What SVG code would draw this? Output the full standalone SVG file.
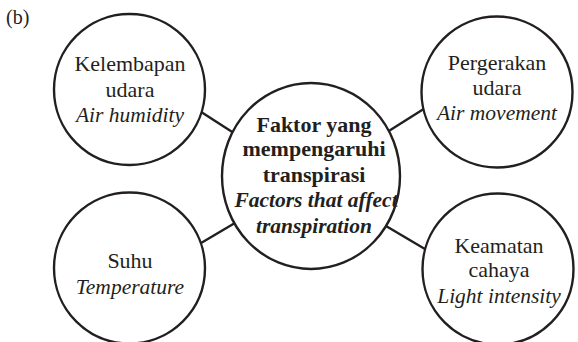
<svg xmlns="http://www.w3.org/2000/svg" width="578" height="342" viewBox="0 0 578 342">
<style>
.n{fill:#fff;stroke:#231f20;stroke-width:2.4}
.c line{stroke:#231f20;stroke-width:2.4}
text{font-family:"Liberation Serif","Times New Roman",serif;fill:#231f20;text-anchor:middle}
.r{font-size:22px}
.i{font-size:21.5px;font-style:italic}
.b{font-size:22px;font-weight:bold}
.bi{font-size:21.5px;font-weight:bold;font-style:italic}
</style>
<rect width="578" height="342" fill="#fff"/>
<text x="6" y="24" style="font-size:20px;text-anchor:start">(b)</text>
<g class="c" id="connectors">
<line x1="195" y1="108" x2="240" y2="137"/>
<line x1="388" y1="131.5" x2="430" y2="105"/>
<line x1="196" y1="246" x2="240" y2="220"/>
<line x1="386" y1="226" x2="430" y2="252"/>
</g>
<g id="center">
<ellipse class="n" cx="311" cy="176" rx="89" ry="93"/>
<text class="b" x="314" y="132">Faktor yang</text>
<text class="b" x="314" y="156">mempengaruhi</text>
<text class="b" x="314" y="182">transpirasi</text>
<text class="bi" x="316" y="207">Factors that affect</text>
<text class="bi" x="314" y="233">transpiration</text>
</g>
<g id="humidity">
<circle class="n" cx="129.5" cy="89.5" r="75.5"/>
<text class="r" x="130" y="71">Kelembapan</text>
<text class="r" x="130" y="97">udara</text>
<text class="i" x="130" y="122">Air humidity</text>
</g>
<g id="movement">
<circle class="n" cx="497" cy="92" r="75.5"/>
<text class="r" x="497" y="70">Pergerakan</text>
<text class="r" x="497" y="95">udara</text>
<text class="i" x="497" y="120">Air movement</text>
</g>
<g id="temperature">
<circle class="n" cx="129.5" cy="268" r="75.5"/>
<text class="r" x="130" y="268">Suhu</text>
<text class="i" x="130" y="294">Temperature</text>
</g>
<g id="light">
<circle class="n" cx="498" cy="269" r="75.5"/>
<text class="r" x="499" y="253">Keamatan</text>
<text class="r" x="499" y="277">cahaya</text>
<text class="i" x="499" y="303">Light intensity</text>
</g>
</svg>
